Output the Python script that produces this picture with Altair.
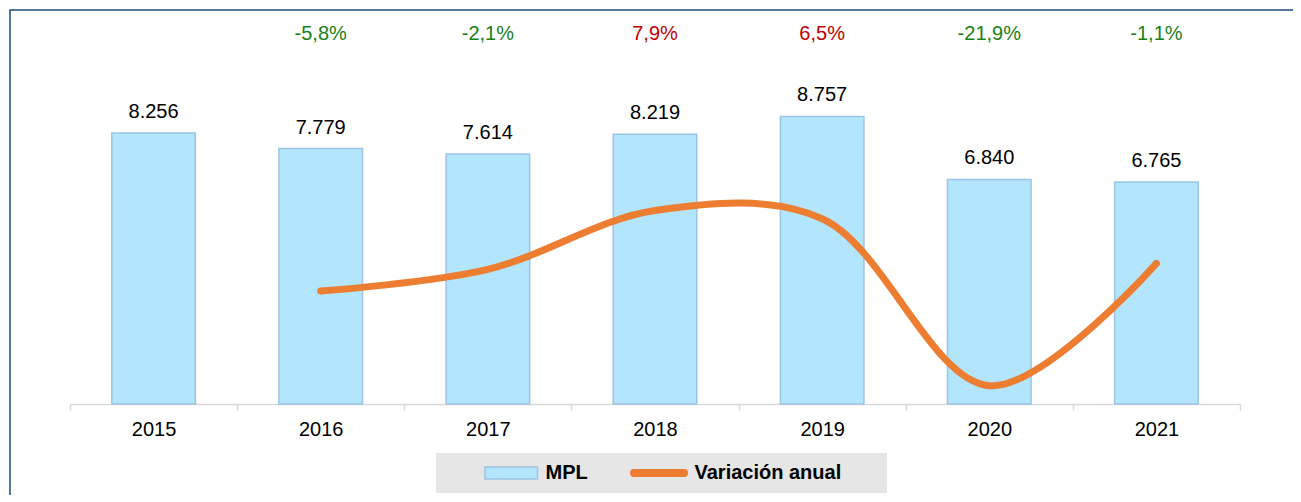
import altair as alt
import pandas as pd

# ---- data ----
years = ["2015", "2016", "2017", "2018", "2019", "2020", "2021"]
mpl = [8256, 7779, 7614, 8219, 8757, 6840, 6765]
variacion = [None, -5.8, -2.1, 7.9, 6.5, -21.9, -1.1]
series = ["MPL", "Variación anual"]

# ---- styles ----
BAR_FILL = "#b3e6fc"
BAR_STROKE = "#9dc3e6"
ORANGE = "#ed7d31"
GREEN = "#1a7f1a"
RED = "#c00000"
FONT = "Liberation Sans"
LEG_BG = "#e6e6e6"

df = pd.DataFrame({
    "year": years,
    "mpl": mpl,
    "var": variacion,
    "s_bar": series[0],
    "s_line": series[1],
})

base = alt.Chart(df).transform_calculate(
    mpl_lbl="replace(format(datum.mpl, ','), ',', '.')",
    var_lbl=("isValid(datum.var) ? (datum.var < 0 ? '-' : '') + "
             "replace(format(abs(datum.var), '.1f'), '.', ',') + '%' : ''"),
)

x_axis = alt.Axis(
    title=None, labelAngle=0, labelFontSize=20, labelFont=FONT, labelColor="#000000",
    domainColor="#d9d9d9", domainWidth=1.5, tickColor="#d9d9d9", tickWidth=1.5,
    tickSize=6, tickBand="extent", labelPadding=9, offset=-146, grid=False,
)
x_enc = alt.X("year:N", sort=years,
              scale=alt.Scale(range=[60, 1230], paddingInner=0, paddingOuter=0),
              axis=x_axis)

y_bar = alt.Y("mpl:Q", scale=alt.Scale(domain=[0, 12000], range=[394, 0]), axis=None)
y_line = alt.Y("var:Q", scale=alt.Scale(domain=[-25, 42], range=[394, 0]), axis=None)

# legend symbol shapes (units scaled by sqrt(symbolSize)/2 = 7 px)
rect_path = "M-1,-0.86H6.5V0.86H-1Z"
h = 0.2857
stadium = (f"M-0.4286,{-h}H6.714A{h},{h} 0 0 1 6.714,{h}"
           f"H-0.4286A{h},{h} 0 0 1 -0.4286,{-h}Z")

common_leg = dict(
    orient="none", legendY=443, direction="horizontal",
    title="\u00a0", titleFontSize=1, titleOrient="left",
    fillColor=LEG_BG, padding=10, symbolSize=196, labelLimit=400,
    labelFontSize=20, labelFont=FONT, labelFontWeight="bold", labelColor="#000000",
)

legend_bar = alt.Legend(
    legendX=426, titlePadding=36, labelOffset=43.5,
    symbolType=rect_path, symbolFillColor=BAR_FILL, symbolStrokeColor=BAR_STROKE,
    symbolStrokeWidth=1.5, **common_leg,
)
legend_line = alt.Legend(
    legendX=578, titlePadding=29, labelOffset=47.5,
    symbolType=stadium, symbolFillColor=ORANGE, symbolStrokeColor=ORANGE,
    symbolStrokeWidth=4,
    labelExpr="datum.label + '\u2800\u00a0\u2800'",
    **common_leg,
)

bars = base.mark_bar(width=alt.RelativeBandSize(0.5), stroke=BAR_STROKE, strokeWidth=1.5).encode(
    x=x_enc, y=y_bar,
    fill=alt.Fill("s_bar:N", scale=alt.Scale(domain=[series[0]], range=[BAR_FILL]), legend=legend_bar),
)

bar_txt = base.mark_text(fontSize=20, font=FONT, color="#000000", baseline="alphabetic", dy=-15).encode(
    x=x_enc, y=y_bar, text="mpl_lbl:N",
)

line = base.mark_line(interpolate="catmull-rom", strokeWidth=7, strokeCap="round").transform_filter(
    "isValid(datum.var)"
).encode(
    x=x_enc, y=y_line,
    stroke=alt.Stroke("s_line:N", scale=alt.Scale(domain=[series[1]], range=[ORANGE]),
                      legend=legend_line),
)

pct = base.mark_text(fontSize=20, font=FONT, baseline="alphabetic").transform_filter(
    "isValid(datum.var)"
).encode(
    x=x_enc, y=alt.value(30), text="var_lbl:N",
    color=alt.condition("datum.var < 0", alt.value(GREEN), alt.value(RED)),
)

chart = alt.layer(bars, bar_txt, line, pct).resolve_scale(y="independent").properties(
    width=1340, height=540,
    autosize=alt.AutoSizeParams(type="none"),
    padding={"left": 2, "top": 2, "right": -57, "bottom": -55},
).configure(font=FONT).configure_view(stroke="#1f4e79", strokeWidth=1.5)

chart.save("out.html", embed_options={"renderer": "svg", "actions": False})
